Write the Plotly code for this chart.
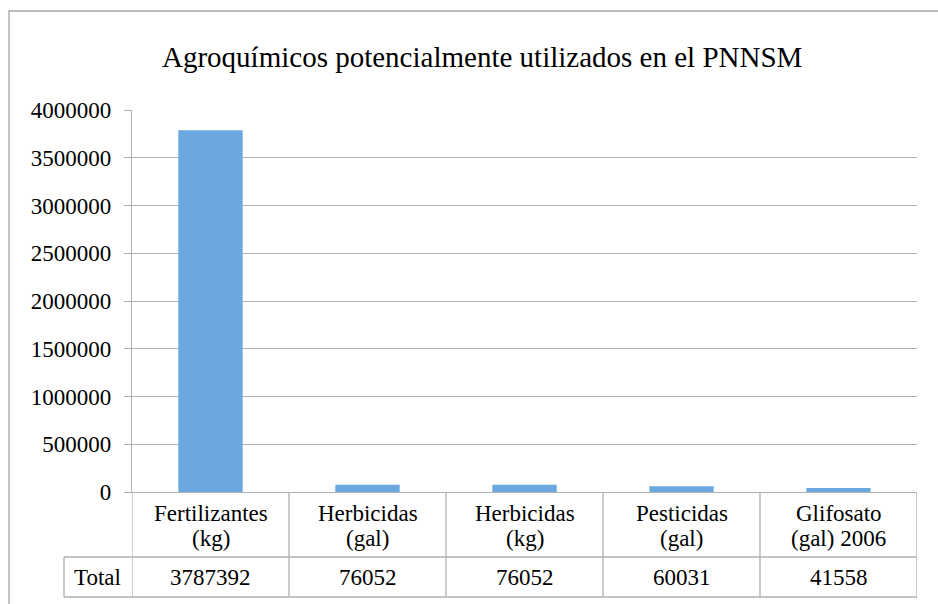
import plotly.graph_objects as go

categories = ["Fertilizantes<br>(kg)", "Herbicidas<br>(gal)", "Herbicidas<br>(kg)",
              "Pesticidas<br>(gal)", "Glifosato<br>(gal) 2006"]
values = [3787392, 76052, 76052, 60031, 41558]
series_name = "Total"
title = "Agroquímicos potencialmente utilizados en el PNNSM"
y_ticks = list(range(0, 4000001, 500000))

FONT = "'Liberation Serif', 'Times New Roman', Times, serif"
GRID = "#b0b0b0"
W, H = 938, 604
ML, MR, MT, MB = 132, 21, 110, 112
PW = W - ML - MR
PH = H - MT - MB

def py(px):  # pixel row -> paper y
    return (H - MB - px) / PH

def pxx(px):  # pixel column -> paper x
    return (px - ML) / PW

fig = go.Figure()
fig.add_trace(go.Bar(
    x=list(range(len(categories))), y=values, name=series_name,
    width=0.41, marker=dict(color="#6aa8df", line=dict(width=0)),
    hoverinfo="skip",
))

shapes = []
annotations = []
row1_bot = py(557)
row2_bot = py(597)
for i in range(len(categories) + 1):
    shapes.append(dict(type="line", xref="x", yref="paper", x0=i - 0.5, x1=i - 0.5,
                       y0=0, y1=row2_bot, line=dict(color=GRID, width=1.3)))
shapes.append(dict(type="line", xref="paper", yref="paper", x0=pxx(64), x1=1,
                   y0=row1_bot, y1=row1_bot, line=dict(color=GRID, width=1.3)))
shapes.append(dict(type="line", xref="paper", yref="paper", x0=pxx(64), x1=1,
                   y0=row2_bot, y1=row2_bot, line=dict(color=GRID, width=1.3)))
shapes.append(dict(type="line", xref="paper", yref="paper", x0=pxx(64), x1=pxx(64),
                   y0=row1_bot, y1=row2_bot, line=dict(color=GRID, width=1.3)))
shapes.append(dict(type="rect", xref="paper", yref="paper", x0=pxx(9), x1=pxx(960),
                   y0=py(11), y1=py(640), line=dict(color="#a6a6a6", width=1.3)))

TF = dict(family=FONT, size=23, color="black")
line_rows = [py(513), py(538)]
for i, (c, v) in enumerate(zip(categories, values)):
    for j, part in enumerate(c.split("<br>")):
        annotations.append(dict(x=i, y=line_rows[j], xref="x", yref="paper",
                                text=part, showarrow=False, xanchor="center",
                                yanchor="middle", font=TF))
    annotations.append(dict(x=i, y=(row1_bot + row2_bot) / 2, xref="x", yref="paper",
                            text=str(v), showarrow=False, xanchor="center",
                            yanchor="middle", font=TF))
annotations.append(dict(x=pxx(97), y=(row1_bot + row2_bot) / 2, xref="paper", yref="paper",
                        text=series_name, showarrow=False, xanchor="center",
                        yanchor="middle", font=TF))
annotations.append(dict(x=pxx(482), y=py(57), xref="paper", yref="paper",
                        text=title, showarrow=False, xanchor="center", yanchor="middle",
                        font=dict(family=FONT, size=29, color="black")))

fig.update_layout(
    width=W, height=H,
    margin=dict(l=ML, r=MR, t=MT, b=MB),
    paper_bgcolor="white", plot_bgcolor="white",
    showlegend=False,
    font=dict(family=FONT, color="black"),
    shapes=shapes, annotations=annotations,
    xaxis=dict(range=[-0.5, len(categories) - 0.5], showticklabels=False,
               showgrid=False, zeroline=False, showline=True, linecolor=GRID,
               linewidth=1.3, ticks=""),
    yaxis=dict(range=[0, 4000000], tickvals=y_ticks, ticktext=[str(t) for t in y_ticks],
               showgrid=True, gridcolor=GRID, gridwidth=1.3, zeroline=False,
               showline=True, linecolor=GRID, linewidth=1.3,
               ticks="outside", ticklen=7, tickcolor=GRID, tickwidth=1.3,
               ticklabelstandoff=8,
               tickfont=TF),
)

fig.write_html("out.html", config={"displayModeBar": False},
               post_script="document.body.style.margin='0';document.body.style.overflow='hidden';")
